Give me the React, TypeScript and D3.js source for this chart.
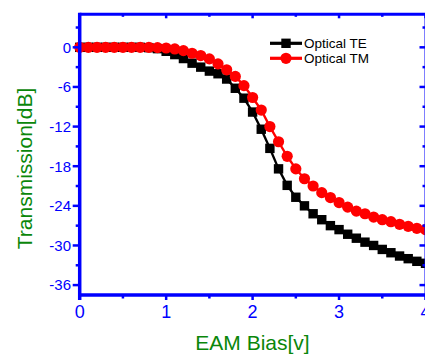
import React from "react";
import * as d3 from "d3";

const biasV = [0, 0.1, 0.2, 0.3, 0.4, 0.5, 0.6, 0.7, 0.8, 0.9, 1.0, 1.1, 1.2, 1.3, 1.4, 1.5, 1.6, 1.7, 1.8, 1.9, 2.0, 2.1, 2.2, 2.3, 2.4, 2.5, 2.6, 2.7, 2.8, 2.9, 3.0, 3.1, 3.2, 3.3, 3.4, 3.5, 3.6, 3.7, 3.8, 3.9, 4.0];
const opticalTE = [0, 0, 0, 0, 0, 0, 0, 0, -0.05, -0.2, -0.6, -1.1, -1.7, -2.4, -3.0, -3.6, -4.0, -4.8, -6.2, -7.7, -9.8, -12.4, -15.3, -18.4, -20.9, -22.7, -24.0, -25.2, -26.1, -27.0, -27.6, -28.3, -28.9, -29.5, -30.0, -30.6, -31.1, -31.6, -32.0, -32.4, -32.7];
const opticalTM = [0, 0, 0, 0, 0, 0, 0, 0, 0, -0.05, -0.1, -0.25, -0.5, -0.9, -1.25, -1.75, -2.5, -3.4, -4.4, -5.8, -7.6, -9.5, -12.0, -14.3, -16.5, -18.4, -19.9, -21.0, -22.0, -22.75, -23.5, -24.2, -24.8, -25.2, -25.7, -26.1, -26.4, -26.8, -27.1, -27.4, -27.6];
const xMajorTicks = [0, 1, 2, 3, 4];
const xMinorTicks = [0.5, 1.5, 2.5, 3.5];
const yMajorTicks = [0, -6, -12, -18, -24, -30, -36];
const yMinorTicks = [3, -3, -9, -15, -21, -27, -33];
const seriesNames = ["Optical TE", "Optical TM"];

const W = 425;
const H = 356;
const L = 79.7;
const R = 425.5;
const T = 14.3;
const B = 295;
const BLUE = "#0000ff";
const GREEN = "#0a870a";
const FONT = "'Liberation Sans', Arial, Helvetica, sans-serif";

export default function App() {
  const x = d3.scaleLinear().domain([0, 4]).range([L, R]);
  const y = d3.scaleLinear().domain([-37.5, 5]).range([B, T]);
  const seriesLine = d3
    .line<number>()
    .x((_, i) => x(biasV[i]))
    .y((d) => y(d));
  const sq = 9.4;
  const rc = 5.6;

  return (
    <svg
      width={W}
      height={H}
      style={{ position: "absolute", left: 0, top: 0, background: "#fff" }}
      fontFamily={FONT}
    >
      <rect x={0} y={0} width={W} height={H} fill="#fff" />

      {/* TE series */}
      <path d={seriesLine(opticalTE) || ""} fill="none" stroke="#000" strokeWidth={2.4} />
      {opticalTE.map((d, i) => (
        <rect key={"te" + i} x={x(biasV[i]) - sq / 2} y={y(d) - sq / 2} width={sq} height={sq} fill="#000" />
      ))}
      {/* TM series */}
      <path d={seriesLine(opticalTM) || ""} fill="none" stroke="#ff0000" strokeWidth={2.4} />
      {opticalTM.map((d, i) => (
        <circle key={"tm" + i} cx={x(biasV[i])} cy={y(d)} r={rc} fill="#ff0000" />
      ))}

      {/* axes frame */}
      <line x1={L} x2={R} y1={T} y2={T} stroke={BLUE} strokeWidth={3} />
      <line x1={426} x2={426} y1={T} y2={B} stroke={BLUE} strokeWidth={3} />
      <line x1={L} x2={L} y1={T - 1.5} y2={B + 5} stroke={BLUE} strokeWidth={3.5} />
      <line x1={L - 1.7} x2={R} y1={B} y2={B} stroke={BLUE} strokeWidth={3.5} />

      {/* left / right ticks */}
      {yMajorTicks.map((t) => (
        <g key={"ly" + t}>
          <line x1={L - 7} x2={L} y1={y(t)} y2={y(t)} stroke={BLUE} strokeWidth={2.5} />
          <text x={71} y={y(t)} dy="0.36em" textAnchor="end" fontSize={15} fill={BLUE}>
            {t}
          </text>
          <line x1={R - 6} x2={R} y1={y(t)} y2={y(t)} stroke={BLUE} strokeWidth={2.5} />
        </g>
      ))}
      {yMinorTicks.map((t) => (
        <g key={"lym" + t}>
          <line x1={L - 4} x2={L} y1={y(t)} y2={y(t)} stroke={BLUE} strokeWidth={2.5} />
          <line x1={R - 3} x2={R} y1={y(t)} y2={y(t)} stroke={BLUE} strokeWidth={2.5} />
        </g>
      ))}

      {/* bottom / top ticks */}
      {xMajorTicks.map((t) => (
        <g key={"bx" + t}>
          <line x1={x(t)} x2={x(t)} y1={B} y2={B + 5} stroke={BLUE} strokeWidth={2.5} />
          <line x1={x(t)} x2={x(t)} y1={T} y2={T + 4} stroke={BLUE} strokeWidth={2.5} />
          <text x={x(t)} y={318} textAnchor="middle" fontSize={18} fill={BLUE}>
            {t}
          </text>
        </g>
      ))}
      {xMinorTicks.map((t) => (
        <g key={"bxm" + t}>
          <line x1={x(t)} x2={x(t)} y1={B} y2={B + 3.5} stroke={BLUE} strokeWidth={2.5} />
          <line x1={x(t)} x2={x(t)} y1={T} y2={T + 2.5} stroke={BLUE} strokeWidth={2.5} />
        </g>
      ))}

      {/* axis titles */}
      <text x={252.5} y={350} textAnchor="middle" fontSize={21} fill={GREEN}>
        EAM Bias[v]
      </text>
      <text
        transform={`translate(32,168.5) rotate(-90)`}
        textAnchor="middle"
        fontSize={21}
        fill={GREEN}
      >
        Transmission[dB]
      </text>

      {/* legend */}
      <g>
        <line x1={270} x2={302} y1={43.3} y2={43.3} stroke="#000" strokeWidth={3.2} />
        <rect x={286 - sq / 2} y={43.3 - sq / 2} width={sq} height={sq} fill="#000" />
        <text x={304} y={43.3} dy="0.36em" fontSize={13.5} fill="#000">
          {seriesNames[0]}
        </text>
        <line x1={270} x2={302} y1={58.3} y2={58.3} stroke="#ff0000" strokeWidth={3.2} />
        <circle cx={286} cy={58.3} r={rc} fill="#ff0000" />
        <text x={304} y={58.3} dy="0.36em" fontSize={13.5} fill="#000">
          {seriesNames[1]}
        </text>
      </g>
    </svg>
  );
}
